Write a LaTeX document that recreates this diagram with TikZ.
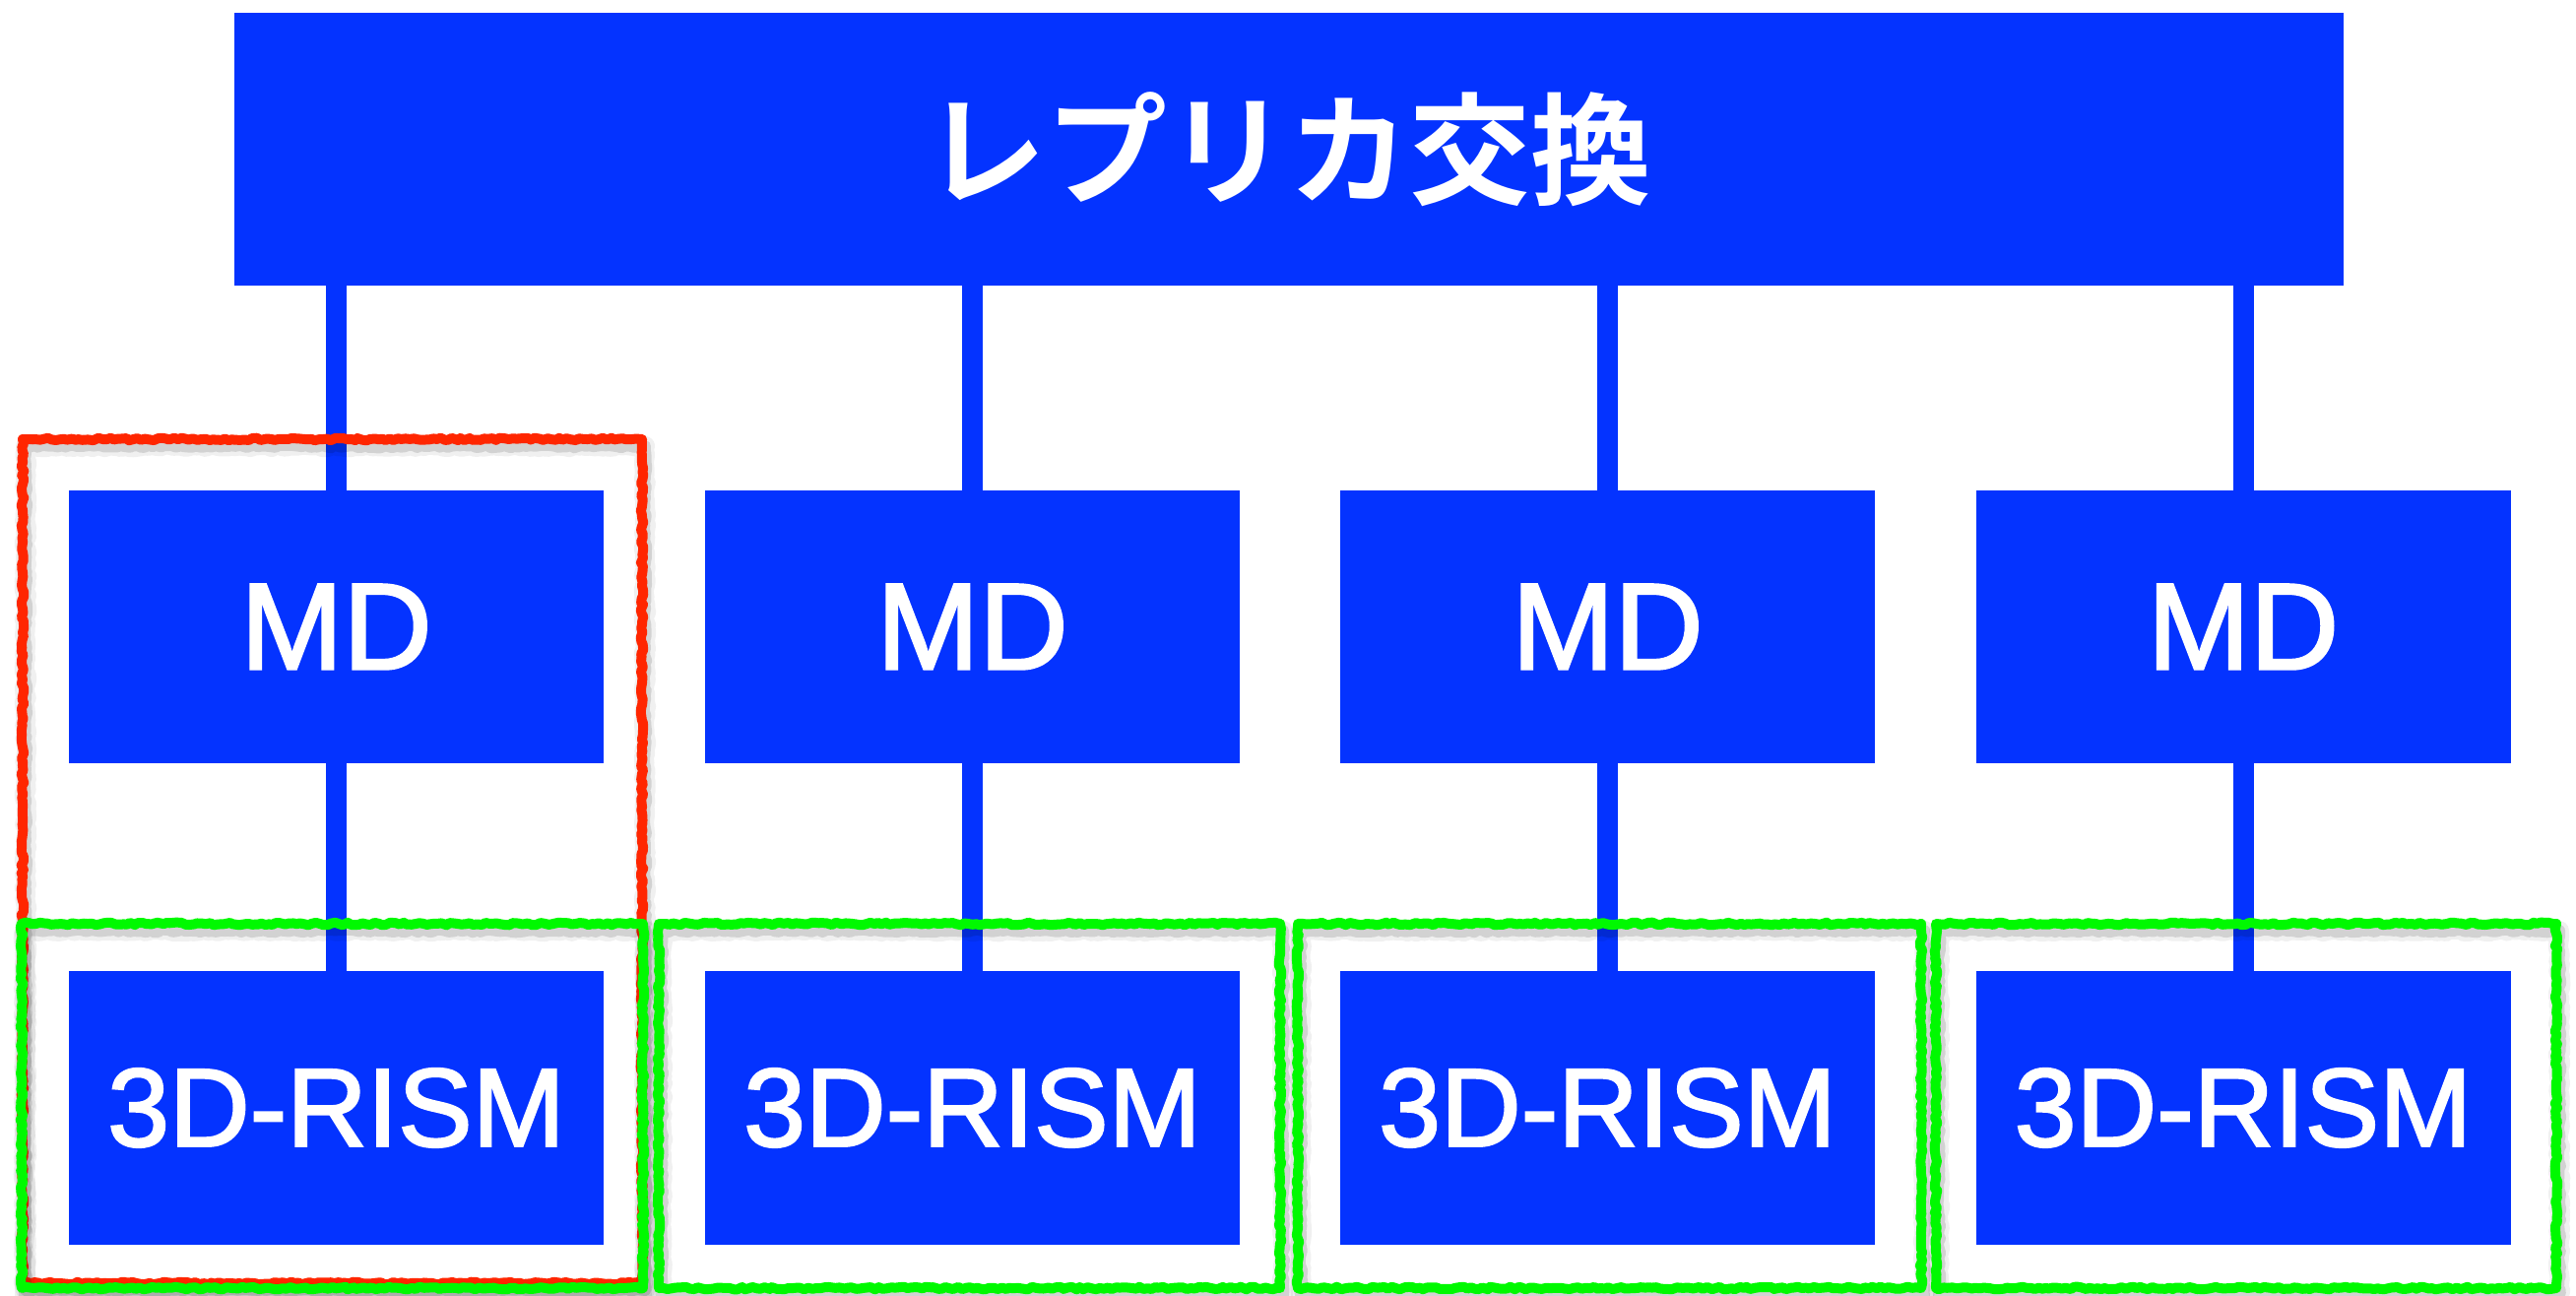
\documentclass[tikz,border=0pt]{standalone}
\usepackage{fontspec}
\setmainfont{Liberation Sans}
\newfontfamily\latinfont{Liberation Sans}[FakeBold=2]
\newfontfamily\jpfont{Noto Sans CJK JP Bold}
\usetikzlibrary{decorations.pathmorphing,calc}
\definecolor{kblue}{RGB}{4,51,255}
\definecolor{kred}{RGB}{255,38,0}
\definecolor{kgreen}{RGB}{0,249,0}
\tikzset{
  box/.style={fill=kblue, draw=none, inner sep=0pt, text=white,
    minimum width=543pt, minimum height=277.5pt},
  conn/.style={draw=kblue, line width=21pt},
  frameline/.style={line width=10pt, line join=round, line cap=round, decorate,
    decoration={random steps, segment length=4pt, amplitude=1.3pt}},
  shadowA/.style={frameline, draw=black, opacity=0.06, line width=20pt},
  shadowB/.style={frameline, draw=black, opacity=0.12, line width=12pt},
}
\begin{document}
\begin{tikzpicture}[x=1pt,y=-1pt]
\pgfmathsetseed{7}
\useasboundingbox (0,0) rectangle (2616,1316);
\fill[white] (0,0) rectangle (2616,1316);

% top node
\node[box, minimum width=2142.5pt, minimum height=277.5pt, anchor=north west,
  font=\jpfont\fontsize{123}{130}\selectfont] (top) at (237.5,12.5) {レプリカ交換};

% MD and 3D-RISM nodes
\foreach \i/\cx in {1/341.5, 2/987.5, 3/1632.5, 4/2278} {
  \node[box, anchor=north, font=\latinfont\fontsize{125}{130}\selectfont] (md\i) at (\cx,497.5) {MD};
  \node[box, anchor=north, font=\latinfont\fontsize{113}{120}\selectfont] (rs\i) at (\cx,986) {3D-RISM};
}

% connectors
\foreach \i in {1,2,3,4} {
  \draw[conn] (md\i.north |- top.south) -- (md\i.north);
  \draw[conn] (md\i.south) -- (rs\i.north);
}

% red frame (MD + 3D-RISM, first column)
\begin{scope}[shift={(3,7)}]
  \draw[shadowA] (23,446) rectangle (652,1303);
  \draw[shadowB] (23,446) rectangle (652,1303);
\end{scope}
\draw[frameline, draw=kred] (23,446) rectangle (652,1303);

% green frames (3D-RISM)
\foreach \l/\r in {22/653, 669/1300, 1318/1951, 1966/2596} {
  \begin{scope}[shift={(3,7)}]
    \draw[shadowA] (\l,938) rectangle (\r,1308);
    \draw[shadowB] (\l,938) rectangle (\r,1308);
  \end{scope}
  \draw[frameline, draw=kgreen] (\l,938) rectangle (\r,1308);
}
\end{tikzpicture}
\end{document}
